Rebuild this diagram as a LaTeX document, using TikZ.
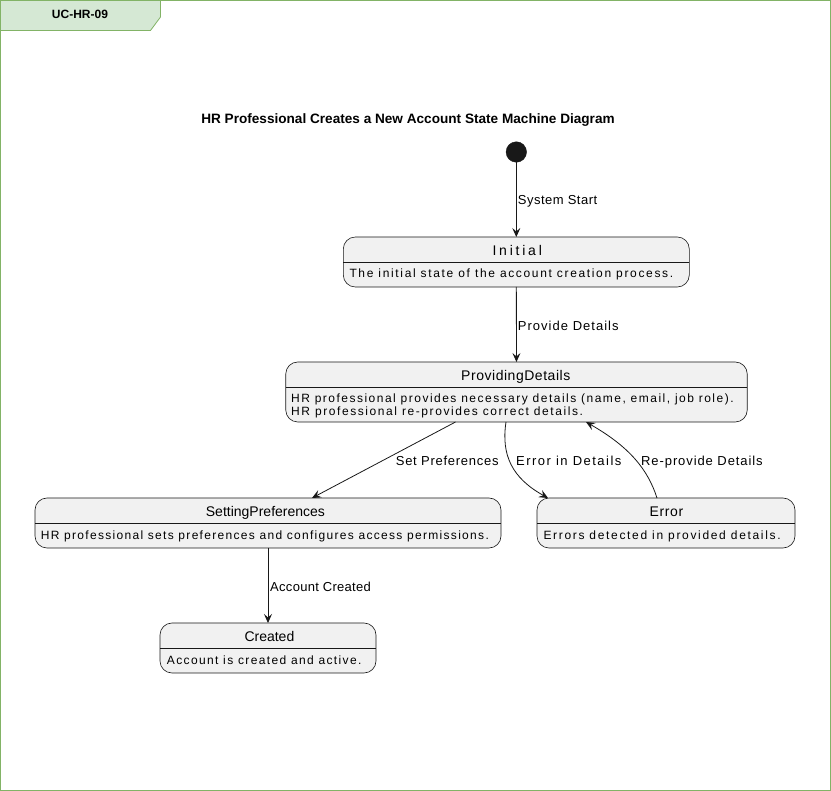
\documentclass[tikz,border=0pt]{standalone}
\usepackage{fontspec}
\setmainfont{Liberation Sans}
\usetikzlibrary{arrows.meta}
\definecolor{framegreen}{HTML}{82B366}
\definecolor{tabfill}{HTML}{D5E8D4}
\definecolor{boxfill}{HTML}{F1F1F1}
\definecolor{ink}{HTML}{181818}
\begin{document}
\begin{tikzpicture}[x=1pt,y=-1pt,
  statebox/.style={draw=ink, line width=0.6pt, fill=boxfill, rounded corners=12pt, inner sep=0pt, outer sep=0pt},
  stitle/.style={anchor=base west, inner sep=0pt, font=\fontsize{14}{16}\selectfont\addfontfeature{LetterSpace=#1}, text=black},
  stitle/.default=0,
  sbody/.style={anchor=base west, inner sep=0pt, font=\fontsize{12}{13}\selectfont\addfontfeature{LetterSpace=#1}, text=black},
  sbody/.default=11.5,
  elabel/.style={anchor=base west, inner sep=0pt, font=\fontsize{13}{15}\selectfont\addfontfeature{LetterSpace=#1}, text=black},
  elabel/.default=7,
  arr/.style={draw=ink, line width=0.8pt, -{Stealth[length=9pt,width=8pt,inset=3.5pt]}},
  divider/.style={draw=ink, line width=0.6pt}
]
\useasboundingbox (0,0) rectangle (831,791);
% frame
\draw[framegreen, line width=0.8pt] (0.5,0.5) rectangle (830.5,790.5);
\draw[framegreen, line width=0.8pt, fill=tabfill] (0.5,0.5) -- (160.5,0.5) -- (160.5,17) -- (150.5,30.5) -- (0.5,30.5) -- cycle;
\node[anchor=base, inner sep=0pt, font=\bfseries\fontsize{12}{14}\selectfont] (tabtext) at (80,19) {UC-HR-09};
% title
\node[anchor=base, inner sep=0pt, font=\bfseries\fontsize{13.6}{16}\selectfont] (title) at (408,124) {HR Professional Creates a New Account State Machine Diagram};
% start
\node[circle, fill=ink, draw=ink, minimum size=20.5pt, inner sep=0pt, outer sep=0pt] (start) at (516.3,152) {};
% states
\node[statebox, minimum width=346pt, minimum height=50pt] (init) at (516.3,262) {};
\draw[divider] ([yshift=-25pt]init.north west) -- ([yshift=-25pt]init.north east);
\node[stitle=19.9] (initT) at (492.3,256) {Initial};
\node[sbody=13.8] (initB) at (349.3,278) {The initial state of the account creation process.};

\node[statebox, minimum width=461.5pt, minimum height=60pt] (pd) at (516.5,392) {};
\draw[divider] ([yshift=-25pt]pd.north west) -- ([yshift=-25pt]pd.north east);
\node[stitle=3.8] (pdT) at (461,380.5) {ProvidingDetails};
\node[sbody=12.4] (pdB1) at (291,403) {HR professional provides necessary details (name, email, job role).};
\node[sbody=13.2] (pdB2) at (291,416) {HR professional re-provides correct details.};

\node[statebox, minimum width=466pt, minimum height=50pt] (sp) at (268,523) {};
\draw[divider] ([yshift=-25pt]sp.north west) -- ([yshift=-25pt]sp.north east);
\node[stitle=0] (spT) at (205.7,516.5) {SettingPreferences};
\node[sbody=10.9] (spB) at (40.7,539.5) {HR professional sets preferences and configures access permissions.};

\node[statebox, minimum width=258pt, minimum height=50pt] (err) at (666,523) {};
\draw[divider] ([yshift=-25pt]err.north west) -- ([yshift=-25pt]err.north east);
\node[stitle=4.8] (errT) at (649.3,516.5) {Error};
\node[sbody=13.9] (errB) at (543.3,539.5) {Errors detected in provided details.};

\node[statebox, minimum width=216pt, minimum height=50pt] (cr) at (268,648) {};
\draw[divider] ([yshift=-25pt]cr.north west) -- ([yshift=-25pt]cr.north east);
\node[stitle=0] (crT) at (244.3,641.5) {Created};
\node[sbody=11.5] (crB) at (166.7,664.5) {Account is created and active.};

% transitions
\draw[arr] (start) -- (init);
\node[elabel=3.8] (l1) at (517.7,205) {System Start};
\draw[arr] (init) -- (pd);
\node[elabel=7.9] (l2) at (517.7,330.5) {Provide Details};
\draw[arr] ([xshift=-61pt]pd.south) -- ([xshift=44pt]sp.north);
\node[elabel=5.6] (l3) at (395.7,466) {Set Preferences};
\draw[arr] ([xshift=-10.5pt]pd.south) .. controls (501,455) and (512,478) .. ([xshift=-118pt]err.north);
\node[elabel=11.4] (l4) at (516,466) {Error in Details};
\draw[arr] ([xshift=-9pt]err.north) .. controls (648,470) and (630,447) .. ([xshift=69.5pt]pd.south);
\node[elabel=7] (l5) at (641,466) {Re-provide Details};
\draw[arr] (sp) -- (cr);
\node[elabel=2.3] (l6) at (270,591.5) {Account Created};
\end{tikzpicture}
\end{document}
